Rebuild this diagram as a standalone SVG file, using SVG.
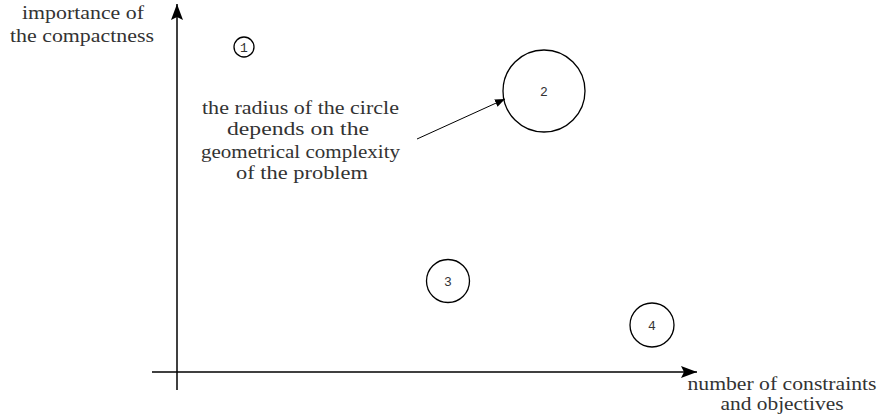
<svg xmlns="http://www.w3.org/2000/svg" width="880" height="419" viewBox="0 0 880 419">
<style>
.lbl{font-family:"Liberation Serif","Times New Roman",serif;font-size:18px;fill:#333;text-anchor:middle}
.num{font-family:"Liberation Mono","DejaVu Sans Mono",monospace;font-size:13px;fill:#333;text-anchor:middle}
.c{fill:none;stroke:#000;stroke-width:1.3}
.ax{stroke:#000;stroke-width:1.5;fill:none}
</style>
<defs>
<marker id="ah" viewBox="0 0 10 10" refX="10" refY="5" markerWidth="10" markerHeight="10" markerUnits="userSpaceOnUse" orient="auto">
<path d="M0,1 L10,5 L0,9 z" fill="#000"/>
</marker>
<marker id="axh" viewBox="0 0 16 12" refX="16" refY="6" markerWidth="16" markerHeight="12" markerUnits="userSpaceOnUse" orient="auto">
<path d="M0,0 L16,6 L0,12 L3,6 z" fill="#000"/>
</marker>
</defs>
<g id="connectors">
<line class="ax" x1="177" y1="390" x2="177" y2="4" marker-end="url(#axh)"/>
<line class="ax" x1="152" y1="372" x2="697" y2="372" marker-end="url(#axh)"/>
<line x1="417" y1="139" x2="505" y2="99" stroke="#000" stroke-width="1" marker-end="url(#ah)"/>
</g>
<g id="axis-y-label">
<text class="lbl" x="83" y="19" textLength="122" lengthAdjust="spacingAndGlyphs">importance of</text>
<text class="lbl" x="82" y="42" textLength="144" lengthAdjust="spacingAndGlyphs">the compactness</text>
</g>
<g id="axis-x-label">
<text class="lbl" x="782" y="390" textLength="189" lengthAdjust="spacingAndGlyphs">number of constraints</text>
<text class="lbl" x="782" y="410" textLength="123" lengthAdjust="spacingAndGlyphs">and objectives</text>
</g>
<g id="note">
<text class="lbl" x="300.5" y="114" textLength="197" lengthAdjust="spacingAndGlyphs">the radius of the circle</text>
<text class="lbl" x="298" y="135" textLength="142" lengthAdjust="spacingAndGlyphs">depends on the</text>
<text class="lbl" x="300.5" y="158" textLength="199" lengthAdjust="spacingAndGlyphs">geometrical complexity</text>
<text class="lbl" x="302" y="179" textLength="132" lengthAdjust="spacingAndGlyphs">of the problem</text>
</g>
<g id="node1"><circle class="c" cx="244" cy="47" r="10"/><text class="num" x="244" y="51.5">1</text></g>
<g id="node2"><circle class="c" cx="544" cy="91" r="41"/><text class="num" x="544" y="95.5">2</text></g>
<g id="node3"><circle class="c" cx="448" cy="281" r="21.5"/><text class="num" x="448" y="285.5">3</text></g>
<g id="node4"><circle class="c" cx="652" cy="325" r="22"/><text class="num" x="652" y="329.5">4</text></g>
</svg>
